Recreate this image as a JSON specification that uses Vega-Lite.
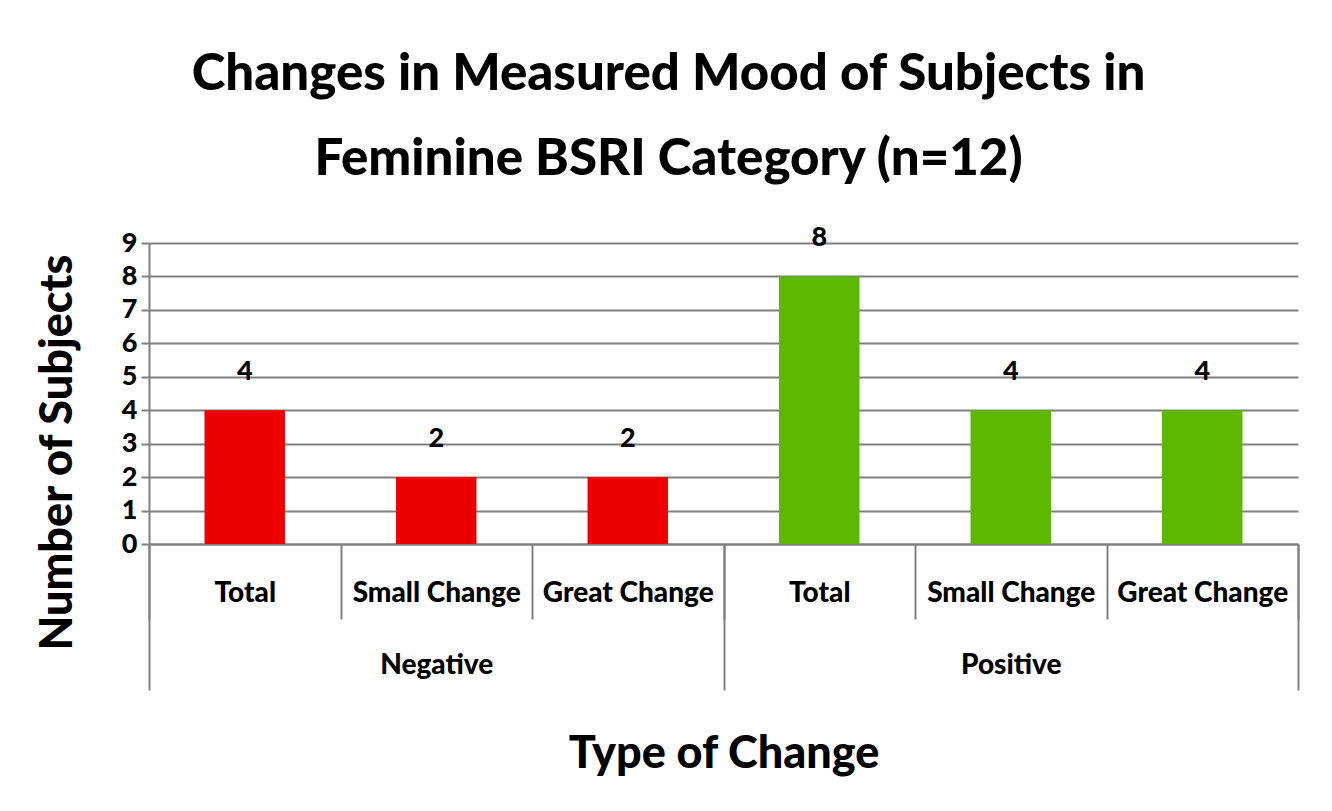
{
  "$schema": "https://vega.github.io/schema/vega-lite/v6.json",
  "autosize": {"type": "none"},
  "width": 1149,
  "height": 301,
  "padding": {"left": 149, "top": 243, "right": 34, "bottom": 267},
  "background": "white",
  "title": {
    "text": ["Changes in Measured Mood of Subjects in", "Feminine BSRI Category (n=12)"],
    "font": "Lato",
    "fontSize": 51,
    "fontWeight": 900,
    "color": "black",
    "anchor": "middle",
    "frame": "group",
    "dx": -55,
    "offset": 38,
    "lineHeight": 85
  },
  "data": {
    "values": [
      {"group": "Negative", "kind": "Total", "key": "Negative|Total", "value": 4},
      {"group": "Negative", "kind": "Small Change", "key": "Negative|Small Change", "value": 2},
      {"group": "Negative", "kind": "Great Change", "key": "Negative|Great Change", "value": 2},
      {"group": "Positive", "kind": "Total", "key": "Positive|Total", "value": 8},
      {"group": "Positive", "kind": "Small Change", "key": "Positive|Small Change", "value": 4},
      {"group": "Positive", "kind": "Great Change", "key": "Positive|Great Change", "value": 4}
    ]
  },
  "encoding": {
    "y": {
      "field": "value",
      "type": "quantitative",
      "scale": {"domain": [0, 9], "nice": false},
      "axis": {
        "title": "Number of Subjects",
        "titleFont": "Lato",
        "titleFontSize": 45,
        "titleFontWeight": 900,
        "titleColor": "black",
        "titleX": -92,
        "titleY": 209,
        "titleAngle": -90,
        "titleAlign": "center",
        "titleBaseline": "middle",
        "values": [0, 1, 2, 3, 4, 5, 6, 7, 8, 9],
        "labelFont": "Lato",
        "labelFontSize": 27,
        "labelFontWeight": 900,
        "labelColor": "black",
        "labelPadding": 4,
        "tickSize": 8,
        "tickColor": "#808080",
        "tickWidth": 2,
        "domainColor": "#808080",
        "domainWidth": 2,
        "grid": true,
        "gridColor": "#808080",
        "gridWidth": 2
      }
    }
  },
  "layer": [
    {
      "mark": {"type": "bar", "width": {"band": 0.42}},
      "encoding": {
        "x": {
          "field": "key",
          "type": "nominal",
          "sort": null,
          "scale": {"paddingInner": 0, "paddingOuter": 0},
          "axis": {
            "title": null,
            "orient": "bottom",
            "labelAngle": 0,
            "labelExpr": "split(datum.label, '|')[1]",
            "labelFont": "Lato",
            "labelFontSize": 28,
            "labelFontWeight": 900,
            "labelColor": "black",
            "labelBaseline": "middle",
            "labelPadding": -26,
            "tickBand": "extent",
            "tickSize": 75,
            "tickColor": "#808080",
            "tickWidth": 2,
            "domainColor": "#808080",
            "domainWidth": 2,
            "grid": false
          }
        },
        "color": {
          "field": "group",
          "type": "nominal",
          "scale": {"domain": ["Negative", "Positive"], "range": ["#ee0000", "#5cb800"]},
          "legend": null
        }
      }
    },
    {
      "mark": {"type": "text", "dy": -38, "font": "Lato", "fontSize": 27, "fontWeight": 900, "color": "black", "baseline": "middle"},
      "encoding": {
        "x": {"field": "key", "type": "nominal", "sort": null, "scale": {"paddingInner": 0, "paddingOuter": 0}, "axis": null},
        "text": {"field": "value", "type": "quantitative"}
      }
    },
    {
      "mark": {"type": "point", "opacity": 0},
      "encoding": {
        "x": {
          "field": "group",
          "type": "nominal",
          "scale": {"paddingInner": 0, "paddingOuter": 0},
          "axis": {
            "orient": "bottom",
            "title": "Type of Change",
            "titleFont": "Lato",
            "titleFontSize": 45,
            "titleFontWeight": 900,
            "titleColor": "black",
            "titlePadding": 40,
            "labelAngle": 0,
            "labelFont": "Lato",
            "labelFontSize": 28,
            "labelFontWeight": 900,
            "labelColor": "black",
            "labelBaseline": "middle",
            "labelPadding": -25,
            "tickBand": "extent",
            "tickSize": 146,
            "tickColor": "#808080",
            "tickWidth": 2,
            "domain": false,
            "grid": false
          }
        }
      }
    }
  ],
  "resolve": {"scale": {"x": "independent"}, "axis": {"x": "independent"}},
  "config": {"view": {"stroke": null}}
}
